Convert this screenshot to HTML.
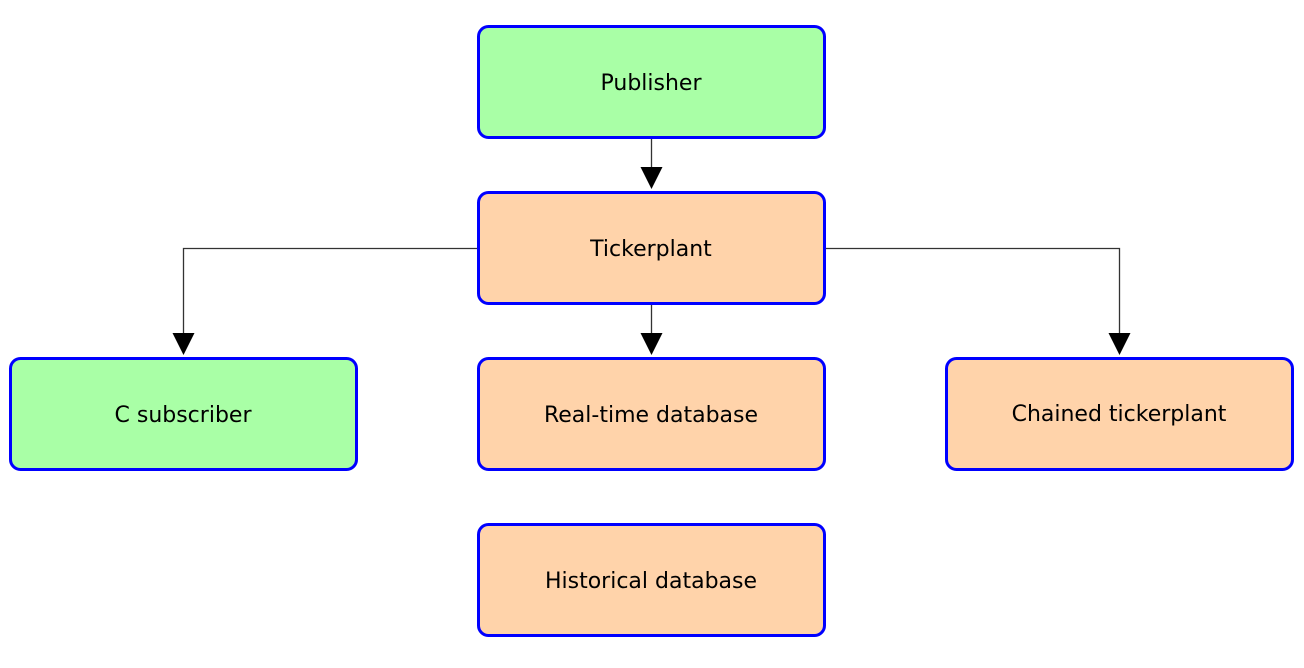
<!DOCTYPE html>
<html><head><meta charset="utf-8"><style>
html,body{margin:0;padding:0;background:#fff;}
svg{display:block;}
text{font-family:"DejaVu Sans","Liberation Sans",sans-serif;font-size:22px;fill:#000;}
</style></head><body>
<svg width="1304" height="668" viewBox="0 0 1304 668">
<g stroke="#0000ff" stroke-width="3">
<rect x="478.5" y="26.5" width="346" height="111" rx="10" fill="#a9ffa6"/>
<rect x="478.5" y="192.5" width="346" height="111" rx="10" fill="#ffd3aa"/>
<rect x="10.5" y="358.5" width="346" height="111" rx="10" fill="#a9ffa6"/>
<rect x="478.5" y="358.5" width="346" height="111" rx="10" fill="#ffd3aa"/>
<rect x="946.5" y="358.5" width="346" height="111" rx="10" fill="#ffd3aa"/>
<rect x="478.5" y="524.5" width="346" height="111" rx="10" fill="#ffd3aa"/>
</g>
<g stroke="#333" stroke-width="1.3" fill="none">
<line x1="651.5" y1="139" x2="651.5" y2="170"/>
<line x1="651.5" y1="305" x2="651.5" y2="336"/>
<polyline points="477,248.5 183.5,248.5 183.5,336"/>
<polyline points="826,248.5 1119.5,248.5 1119.5,336"/>
</g>
<g fill="#000">
<polygon points="640.5,167 662.5,167 651.5,189"/>
<polygon points="640.5,333 662.5,333 651.5,355"/>
<polygon points="172.5,333 194.5,333 183.5,355"/>
<polygon points="1108.5,333 1130.5,333 1119.5,355"/>
</g>
<g text-anchor="middle">
<text x="651" y="90">Publisher</text>
<text x="651" y="256">Tickerplant</text>
<text x="183" y="422">C subscriber</text>
<text x="651" y="422">Real-time database</text>
<text x="1119" y="421">Chained tickerplant</text>
<text x="651" y="588">Historical database</text>
</g>
</svg>
</body></html>
